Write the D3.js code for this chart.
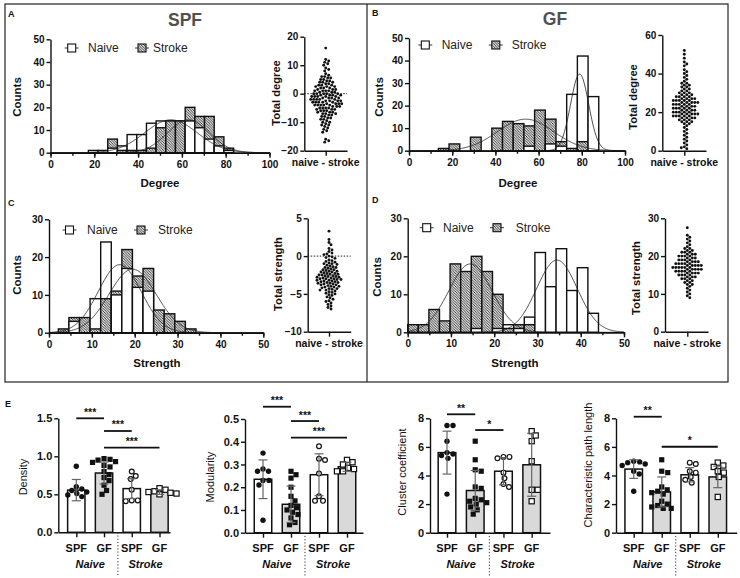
<!DOCTYPE html>
<html><head><meta charset="utf-8">
<script src="https://cdn.jsdelivr.net/npm/d3@7"></script>
<style>
body{margin:0;background:#fff}
svg{display:block}
text{font-family:"Liberation Sans",Arial,Helvetica,sans-serif}
</style>
</head><body>
<svg id="c" width="740" height="578"></svg>
<script>
// ---------------- DATA ----------------
// Histograms: bin start, bin width, counts per bin
const degSPF_binStart = 17.3, degSPF_binWidth = 4.42;
const degSPF_naive  = [1, 1, 2, 3, 8, 8, 13, 14, 14, 14, 14, 11, 6, 3, 1];
const degSPF_stroke = [0, 0, 6, 1, 1, 1, 2, 11, 14, 14, 20, 16, 16, 7, 2];

const degGF_binStart = 13.6, degGF_binWidth = 4.95;
const degGF_naive  = [0, 0, 0, 0, 0, 0, 0, 0, 2, 0, 3, 2, 25, 42, 24];
const degGF_stroke = [1, 3, 0, 6, 0, 10, 13, 12, 11, 18, 14, 4, 1, 4, 0];

const strSPF_binStart = 2.18, strSPF_binWidth = 2.47;
const strSPF_naive  = [0, 3, 0, 9, 24, 10, 17, 12, 11, 0, 0, 0, 0];
const strSPF_stroke = [1, 4, 4, 1, 9, 11, 22, 15, 17, 6, 5, 3, 1];

const strGF_binStart = 0, strGF_binWidth = 2.45;
const strGF_naive  = [0, 0, 0, 0, 0, 0, 1, 0, 1, 2, 1, 4, 21, 12, 22, 11, 17, 5];
const strGF_stroke = [2, 2, 6, 3, 18, 16, 20, 16, 10, 1, 2, 2, 0, 0, 0, 0, 0, 0];

// Gaussian fits [amplitude, mean, sd]
const degSPF_fitNaive = [14.5, 55, 12],  degSPF_fitStroke = [14.5, 63, 9.5];
const degGF_fitNaive  = [34, 79, 4.2],   degGF_fitStroke  = [14, 54, 13];
const strSPF_fitNaive = [18, 16.5, 5],   strSPF_fitStroke = [16.8, 19.5, 5.5];
const strGF_fitNaive  = [19, 34.5, 4.7], strGF_fitStroke  = [18, 14.5, 5];

// Scatter of per-node differences (naive - stroke)
const totDegSPF = [16, 12, 11.5, 11, 10.5, 10, 9, 8.5, 8, 7, 6.5, 6, 6, 5.5, 5.5, 5, 5, 4.5, 4.5, 4, 4, 4, 3.5, 3.5, 3, 3, 3, 2.5, 2.5, 2.5, 2, 2, 2, 1.5, 1.5, 1.5, 1, 1, 1, 1, 0.5, 0.5, 0.5, 0, 0, 0, 0, 0, -0.5, -0.5, -0.5, -0.5, -1, -1, -1, -1, -1, -1.5, -1.5, -1.5, -1.5, -2, -2, -2, -2, -2, -2.5, -2.5, -2.5, -2.5, -3, -3, -3, -3, -3, -3.5, -3.5, -3.5, -3.5, -4, -4, -4, -4, -4, -4.5, -4.5, -4.5, -5, -5, -5, -5, -5.5, -5.5, -5.5, -6, -6, -6, -6.5, -6.5, -6.5, -7, -7, -7, -7.5, -7.5, -8, -8, -8.5, -8.5, -9, -9, -9.5, -10, -10, -10.5, -11, -11, -11.5, -12, -12.5, -13, -13.5, -16, -16.5, -17];
const totDegGF = [52, 50, 48, 46, 45, 44, 42, 41, 40, 39, 38, 37, 36, 35, 35, 34, 34, 33, 33, 32, 32, 31, 31, 30, 30, 30, 29, 29, 29, 28, 28, 28, 28, 27, 27, 27, 27, 26, 26, 26, 26, 26, 25, 25, 25, 25, 25, 24, 24, 24, 24, 24, 23, 23, 23, 23, 22, 22, 22, 22, 22, 21, 21, 21, 21, 20, 20, 20, 20, 20, 19, 19, 19, 19, 19, 18, 18, 18, 18, 18, 17, 17, 17, 17, 16, 16, 16, 15, 15, 15, 14, 14, 13, 12, 11, 10, 9, 8, 7, 6, 5, 4, 3, 2, 1.5, 1];
const totStrSPF = [3.3, 2.2, 1.8, 1.5, 1.0, 0.8, 0.6, 0.4, 0.3, 0.2, 0, -0.1, -0.2, -0.3, -0.5, -0.6, -0.7, -0.8, -0.9, -1.0, -1.0, -1.1, -1.2, -1.3, -1.4, -1.5, -1.5, -1.6, -1.7, -1.8, -1.8, -1.9, -2.0, -2.0, -2.1, -2.1, -2.2, -2.3, -2.3, -2.4, -2.4, -2.5, -2.5, -2.6, -2.6, -2.7, -2.7, -2.8, -2.8, -2.9, -2.9, -3.0, -3.0, -3.0, -3.1, -3.1, -3.2, -3.2, -3.3, -3.3, -3.4, -3.4, -3.5, -3.5, -3.6, -3.6, -3.7, -3.7, -3.8, -3.8, -3.9, -4.0, -4.0, -4.1, -4.1, -4.2, -4.3, -4.3, -4.4, -4.5, -4.5, -4.6, -4.7, -4.8, -4.9, -5.0, -5.1, -5.2, -5.4, -5.5, -5.7, -5.9, -6.0, -6.2, -6.4, -6.6, -6.8, -7.0];
const totStrGF = [27.5, 25.5, 25, 24.5, 24, 23.5, 23, 22.5, 22, 22, 21.5, 21.5, 21, 21, 21, 20.5, 20.5, 20.5, 20, 20, 20, 20, 19.5, 19.5, 19.5, 19, 19, 19, 19, 18.5, 18.5, 18.5, 18.5, 18, 18, 18, 18, 18, 17.5, 17.5, 17.5, 17.5, 17.5, 17, 17, 17, 17, 17, 17, 16.5, 16.5, 16.5, 16.5, 16.5, 16, 16, 16, 16, 16, 15.5, 15.5, 15.5, 15.5, 15, 15, 15, 15, 14.5, 14.5, 14.5, 14, 14, 14, 13.5, 13.5, 13, 13, 12.5, 12.5, 12, 11.5, 11, 10.5, 10, 9.5, 9];

// Panel E: groups SPF/GF x Naive/Stroke
const groupLabels = ["SPF", "GF", "SPF", "GF"];
const conditionLabels = ["Naive", "Stroke"];

const densMean = [0.555, 0.78, 0.575, 0.53];
const densSD   = [0.14, 0.145, 0.13, 0.03];
const densPts  = [[0.87, 0.60, 0.57, 0.55, 0.53, 0.51, 0.49, 0.47],
                  [0.97, 0.96, 0.95, 0.93, 0.92, 0.88, 0.86, 0.80, 0.76, 0.72, 0.68, 0.62, 0.55, 0.50],
                  [0.80, 0.74, 0.70, 0.56, 0.42, 0.42, 0.41],
                  [0.58, 0.56, 0.54, 0.53, 0.52, 0.51, 0.50]];
const densSig  = [[0, 1, 1.50, "***"], [1, 2, 1.333, "***"], [1, 3, 1.113, "***"]];

const modMean = [0.235, 0.125, 0.255, 0.29];
const modSD   = [0.085, 0.08, 0.092, 0.02];
const modPts  = [[0.35, 0.28, 0.27, 0.27, 0.23, 0.23, 0.21, 0.055],
                 [0.27, 0.255, 0.24, 0.20, 0.16, 0.14, 0.12, 0.11, 0.10, 0.09, 0.08, 0.065, 0.045, 0.035],
                 [0.38, 0.325, 0.32, 0.26, 0.16, 0.14, 0.14],
                 [0.32, 0.31, 0.30, 0.285, 0.28, 0.27, 0.27]];
const modSig  = [[0, 1, 0.554, "***"], [1, 2, 0.491, "***"], [1, 3, 0.418, "***"]];

const ccMean = [5.6, 2.95, 4.3, 4.75];
const ccSD   = [1.5, 1.4, 0.95, 2.2];
const ccPts  = [[7.5, 7.5, 6.4, 5.6, 5.5, 5.4, 5.2, 2.7],
                [6.4, 5.1, 4.4, 4.3, 3.2, 3.1, 2.4, 2.3, 2.2, 2.1, 2.0, 1.8, 1.6, 1.3],
                [5.3, 5.3, 5.2, 4.2, 3.8, 3.4, 3.2],
                [7.1, 6.8, 6.4, 5.0, 3.0, 3.0, 2.2]];
const ccSig  = [[0, 1, 8.28, "**"], [1, 2, 7.18, "*"]];

const cplMean = [4.45, 2.85, 4.05, 3.9];
const cplSD   = [0.65, 1.05, 0.5, 0.75];
const cplPts  = [[5.0, 4.95, 4.9, 4.8, 4.7, 4.3, 4.1, 2.9],
                 [5.1, 4.3, 4.2, 3.2, 3.0, 2.9, 2.8, 2.7, 2.2, 2.0, 1.9, 1.8, 1.7, 1.7],
                 [4.9, 4.8, 4.3, 4.2, 3.9, 3.7, 3.5],
                 [4.9, 4.7, 4.6, 4.3, 4.2, 3.9, 2.5]];
const cplSig  = [[0, 1, 8.11, "**"], [1, 3, 6.01, "*"]];

// ---------------- DRAW ----------------
const svg = d3.select("#c");
const defs = svg.append("defs");
const pat = defs.append("pattern").attr("id", "hatch").attr("patternUnits", "userSpaceOnUse")
  .attr("width", 2.6).attr("height", 2.6);
pat.append("rect").attr("width", 2.6).attr("height", 2.6).attr("fill", "#dedede");
pat.append("path").attr("d", "M0,0L2.6,2.6M-1,1.6L1,3.6M1.6,-1L3.6,1").attr("stroke", "#262626").attr("stroke-width", 0.85);

// frame
svg.append("rect").attr("x", 5).attr("y", 4).attr("width", 723).attr("height", 378)
  .attr("fill", "none").attr("stroke", "#222").attr("stroke-width", 1.2);
svg.append("line").attr("x1", 367).attr("x2", 367).attr("y1", 4).attr("y2", 382)
  .attr("stroke", "#222").attr("stroke-width", 1.2);

function txt(x, y, s, o = {}) {
  const t = svg.append("text").attr("x", x).attr("y", y).text(s)
    .attr("font-size", o.size || 11).attr("font-weight", o.weight || "bold")
    .attr("text-anchor", o.anchor || "middle").attr("fill", o.fill || "#111");
  if (o.italic) t.attr("font-style", "italic");
  if (o.rot) t.attr("transform", `rotate(-90,${x},${y})`);
  return t;
}
function styleAxis(g, fs) {
  g.select(".domain").attr("stroke", "#111").attr("stroke-width", 1.4);
  g.selectAll(".tick line").attr("stroke", "#111").attr("stroke-width", 1.4);
  g.selectAll(".tick text").attr("font-size", fs || 10).attr("font-weight", "bold")
    .attr("fill", "#111").attr("font-family", '"Liberation Sans",Arial,sans-serif');
}

function hist(cfg) {
  const x = d3.scaleLinear().domain(cfg.xd).range(cfg.xr);
  const y = d3.scaleLinear().domain(cfg.yd).range(cfg.yr);
  const g = svg.append("g");
  const bars = [];
  cfg.naive.forEach((n, i) => {
    const s = cfg.stroke[i];
    const x0 = cfg.start + i * cfg.width, x1 = x0 + cfg.width;
    const items = [{v: n, f: "#fff"}, {v: s, f: "url(#hatch)"}].filter(d => d.v > 0)
      .sort((a, b) => b.v - a.v);
    items.forEach(it => bars.push({x0, x1, v: it.v, f: it.f}));
  });
  g.selectAll("rect.b").data(bars).join("rect")
    .attr("x", d => x(d.x0)).attr("width", d => x(d.x1) - x(d.x0))
    .attr("y", d => y(d.v)).attr("height", d => y(0) - y(d.v))
    .attr("fill", d => d.f).attr("stroke", "#111").attr("stroke-width", 1.4);
  // fits
  const xs = d3.range(cfg.xd[0], cfg.xd[1] + 0.01, (cfg.xd[1] - cfg.xd[0]) / 300);
  [cfg.fitN, cfg.fitS].forEach(p => {
    const line = d3.line().x(d => x(d)).y(d => y(p[0] * Math.exp(-0.5 * ((d - p[1]) / p[2]) ** 2)));
    g.append("path").datum(xs).attr("d", line).attr("fill", "none")
      .attr("stroke", "#222").attr("stroke-width", 0.8);
  });
  // axes
  const ax = g.append("g").attr("transform", `translate(0,${cfg.yr[0]})`)
    .call(d3.axisBottom(x).tickValues(d3.range(cfg.xd[0], cfg.xd[1] + 0.1, cfg.xMinor)).tickSize(3).tickSizeOuter(0).tickFormat(""));
  styleAxis(ax);
  const axM = g.append("g").attr("transform", `translate(0,${cfg.yr[0]})`)
    .call(d3.axisBottom(x).tickValues(d3.range(cfg.xd[0], cfg.xd[1] + 0.1, cfg.xMajor)).tickSize(5).tickSizeOuter(0).tickFormat(d3.format("d")));
  styleAxis(axM);
  const ay = g.append("g").attr("transform", `translate(${cfg.xr[0]},0)`)
    .call(d3.axisLeft(y).tickValues(d3.range(cfg.yd[0], cfg.yd[1] + 0.1, cfg.yStep)).tickSize(4).tickSizeOuter(0).tickPadding(2));
  styleAxis(ay);
  // legend
  const L = cfg.legend;
  [[L.nx, "#fff", "Naive", L.ntx], [L.sx, "url(#hatch)", "Stroke", L.stx]].forEach(([cx, f, lab, tx]) => {
    g.append("line").attr("x1", cx - 7).attr("x2", cx + 7).attr("y1", L.y).attr("y2", L.y)
      .attr("stroke", "#222").attr("stroke-width", 0.9);
    g.append("rect").attr("x", cx - 4).attr("y", L.y - 4).attr("width", 8).attr("height", 8)
      .attr("fill", f).attr("stroke", "#111").attr("stroke-width", 1.1);
    txt(tx, L.y + 4.3, lab, {size: 12, weight: "normal", anchor: "start", fill: "#222"});
  });
  txt(cfg.ylab[0], cfg.ylab[1], "Counts", {size: 11.5, rot: true});
  txt(cfg.xlab[0], cfg.xlab[1], cfg.xlabText, {size: 11.5});
}

function swarm(vals, y, cx, r) {
  const pts = vals.map(v => ({v, y: y(v)})).sort((a, b) => a.y - b.y);
  const placed = [];
  pts.forEach(p => {
    for (let k = 0; k < 400; k++) {
      const off = (k % 2 === 1 ? 1 : -1) * Math.ceil(k / 2) * 0.5;
      const xx = cx + off;
      if (placed.every(q => (q.x - xx) ** 2 + (q.y - p.y) ** 2 >= (2 * r) ** 2)) {
        p.x = xx; placed.push(p); break;
      }
    }
  });
  return placed;
}

function diffScatter(cfg) {
  const y = d3.scaleLinear().domain(cfg.yd).range(cfg.yr);
  const g = svg.append("g");
  if (cfg.zero) {
    g.append("line").attr("x1", cfg.ax).attr("x2", cfg.xend).attr("y1", y(0)).attr("y2", y(0))
      .attr("stroke", "#222").attr("stroke-width", 1).attr("stroke-dasharray", "1.5,1.5");
  }
  const pts = swarm(cfg.vals, y, cfg.cx, 1.5);
  g.selectAll("circle").data(pts).join("circle").attr("cx", d => d.x).attr("cy", d => d.y)
    .attr("r", 1.45).attr("fill", "#111");
  const ay = g.append("g").attr("transform", `translate(${cfg.ax},0)`)
    .call(d3.axisLeft(y).tickValues(d3.range(cfg.yd[0], cfg.yd[1] + 0.01, cfg.yStep)).tickSize(4).tickSizeOuter(0).tickPadding(2));
  styleAxis(ay);
  const xs = d3.scaleLinear().domain([0, 1]).range([cfg.ax, cfg.xend]);
  const axx = g.append("g").attr("transform", `translate(0,${cfg.yr[0]})`)
    .call(d3.axisBottom(xs).tickValues([(cfg.cx - cfg.ax) / (cfg.xend - cfg.ax)]).tickSize(5).tickSizeOuter(0).tickFormat(""));
  styleAxis(axx);
  txt(cfg.cx, cfg.yr[0] + 15.5, "naive - stroke", {size: 10.5});
  txt(cfg.ylab[0], cfg.ylab[1], cfg.ylabText, {size: 11.2, rot: true});
}

// Panel letters and titles
txt(8, 17, "A", {size: 9, anchor: "start"});
txt(372, 16, "B", {size: 9, anchor: "start"});
txt(8, 206, "C", {size: 9, anchor: "start"});
txt(372, 203, "D", {size: 9, anchor: "start"});
txt(5, 407, "E", {size: 9, anchor: "start"});
txt(185, 26, "SPF", {size: 17.5, fill: "#505050"});
txt(555, 25, "GF", {size: 17.5, fill: "#505050"});

hist({xd: [0, 100], xr: [50.5, 269.5], yd: [0, 50], yr: [152.7, 39.3], xMajor: 20, xMinor: 10, yStep: 10,
  start: degSPF_binStart, width: degSPF_binWidth, naive: degSPF_naive, stroke: degSPF_stroke,
  fitN: degSPF_fitNaive, fitS: degSPF_fitStroke,
  legend: {y: 48, nx: 71.7, ntx: 88, sx: 142, stx: 153},
  ylab: [21, 97], xlab: [160, 187], xlabText: "Degree"});
hist({xd: [0, 100], xr: [409, 625], yd: [0, 50], yr: [150.7, 38], xMajor: 20, xMinor: 10, yStep: 10,
  start: degGF_binStart, width: degGF_binWidth, naive: degGF_naive, stroke: degGF_stroke,
  fitN: degGF_fitNaive, fitS: degGF_fitStroke,
  legend: {y: 45, nx: 425.3, ntx: 441.7, sx: 495.8, stx: 511.7},
  ylab: [383, 97], xlab: [518, 187], xlabText: "Degree"});
hist({xd: [0, 50], xr: [49, 263.3], yd: [0, 30], yr: [332.7, 219.3], xMajor: 10, xMinor: 5, yStep: 10,
  start: strSPF_binStart, width: strSPF_binWidth, naive: strSPF_naive, stroke: strSPF_stroke,
  fitN: strSPF_fitNaive, fitS: strSPF_fitStroke,
  legend: {y: 230, nx: 69.5, ntx: 87, sx: 141, stx: 158},
  ylab: [21, 275], xlab: [157, 367], xlabText: "Strength"});
hist({xd: [0, 50], xr: [407.7, 624], yd: [0, 30], yr: [332.3, 218.3], xMajor: 10, xMinor: 5, yStep: 10,
  start: strGF_binStart, width: strGF_binWidth, naive: strGF_naive, stroke: strGF_stroke,
  fitN: strGF_fitNaive, fitS: strGF_fitStroke,
  legend: {y: 227.7, nx: 426.7, ntx: 443, sx: 497, stx: 515.7},
  ylab: [381, 277], xlab: [515, 367], xlabText: "Strength"});

diffScatter({vals: totDegSPF, yd: [-20, 20], yr: [150.7, 36.7], yStep: 10, ax: 304.3, xend: 347, cx: 325.7, zero: true,
  ylab: [280, 93], ylabText: "Total degree"});
diffScatter({vals: totDegGF, yd: [0, 60], yr: [150.7, 35], yStep: 20, ax: 662.3, xend: 706, cx: 684.3, zero: false,
  ylab: [636.5, 97], ylabText: "Total degree"});
diffScatter({vals: totStrSPF, yd: [-10, 5], yr: [331.7, 218.3], yStep: 5, ax: 307.7, xend: 350.7, cx: 329, zero: true,
  ylab: [281.5, 274], ylabText: "Total strength"});
diffScatter({vals: totStrGF, yd: [0, 30], yr: [331.7, 218.3], yStep: 10, ax: 665, xend: 708, cx: 687.3, zero: false,
  ylab: [640, 278], ylabText: "Total strength"});

// Panel E bar charts
const barFill = ["#fff", "#d9d9d9", "#fff", "#d9d9d9"];
const markerSquare = [false, true, false, true];
const markerFilled = [true, true, false, false];

function barChart(cfg) {
  const y = d3.scaleLinear().domain(cfg.yd).range(cfg.yr);
  const x = d3.scaleBand().domain(d3.range(4)).range([cfg.c0 - cfg.step / 2, cfg.c0 + 3.5 * cfg.step])
    .paddingInner(0.375).paddingOuter(0.1875);
  const g = svg.append("g");
  const bw = x.bandwidth();
  g.selectAll("rect.bar").data(cfg.mean).join("rect")
    .attr("x", (d, i) => x(i)).attr("width", bw).attr("y", d => y(d)).attr("height", d => y(0) - y(d))
    .attr("fill", (d, i) => barFill[i]).attr("stroke", "#111").attr("stroke-width", 1.5);
  // points
  cfg.pts.forEach((arr, i) => {
    const cx = x(i) + bw / 2;
    const ps = swarm(arr, y, cx, 2.9);
    ps.forEach(p => {
      if (markerSquare[i]) {
        g.append("rect").attr("x", p.x - 2.6).attr("y", p.y - 2.6).attr("width", 5.2).attr("height", 5.2)
          .attr("fill", markerFilled[i] ? "#111" : "#fff").attr("stroke", "#111").attr("stroke-width", markerFilled[i] ? 0 : 1.2);
      } else {
        g.append("circle").attr("cx", p.x).attr("cy", p.y).attr("r", markerFilled[i] ? 2.7 : 2.4)
          .attr("fill", markerFilled[i] ? "#111" : "#fff").attr("stroke", "#111").attr("stroke-width", markerFilled[i] ? 0 : 1.2);
      }
    });
  });
  // error bars
  cfg.mean.forEach((m, i) => {
    const cx = x(i) + bw / 2, s = cfg.sd[i];
    const eg = g.append("g").attr("stroke", "#666").attr("stroke-width", 1.2);
    eg.append("line").attr("x1", cx).attr("x2", cx).attr("y1", y(m - s)).attr("y2", y(m + s));
    [m - s, m + s].forEach(v => eg.append("line").attr("x1", cx - 4.5).attr("x2", cx + 4.5).attr("y1", y(v)).attr("y2", y(v)));
  });
  // axes
  const ay = g.append("g").attr("transform", `translate(${cfg.ax},0)`)
    .call(d3.axisLeft(y).tickValues(cfg.ticks).tickSize(4).tickSizeOuter(0).tickPadding(2).tickFormat(cfg.fmt));
  styleAxis(ay, 11);
  const xs = d3.scaleLinear().domain([cfg.ax, cfg.xend]).range([cfg.ax, cfg.xend]);
  const axx = g.append("g").attr("transform", `translate(0,${cfg.yr[0]})`)
    .call(d3.axisBottom(xs).tickValues(d3.range(4).map(i => x(i) + bw / 2)).tickSize(5).tickSizeOuter(0).tickFormat(""));
  styleAxis(axx);
  groupLabels.forEach((l, i) => txt(x(i) + bw / 2, 551.5, l, {size: 11}));
  txt((x(0) + x(1) + bw) / 2, 568, conditionLabels[0], {size: 11, italic: true});
  txt((x(2) + x(3) + bw) / 2, 568, conditionLabels[1], {size: 11, italic: true});
  const dx = (x(1) + bw + x(2)) / 2;
  g.append("line").attr("x1", dx).attr("x2", dx).attr("y1", cfg.yr[0]).attr("y2", 576)
    .attr("stroke", "#333").attr("stroke-width", 1).attr("stroke-dasharray", "1.2,2");
  // significance
  cfg.sig.forEach(([a, b, v, lab]) => {
    const x1 = x(a) + bw / 2, x2 = x(b) + bw / 2;
    g.append("line").attr("x1", x1).attr("x2", x2).attr("y1", y(v)).attr("y2", y(v))
      .attr("stroke", "#111").attr("stroke-width", 1.8);
    txt((x1 + x2) / 2, y(v) - 2.5, lab, {size: 10.5});
  });
  txt(cfg.ylab[0], cfg.ylab[1], cfg.ylabText, {size: 11, weight: "normal", rot: true});
}

barChart({yd: [0, 1.5], yr: [532.3, 418.3], ticks: [0, 0.5, 1.0, 1.5], fmt: d3.format(".1f"), ax: 58.3, xend: 170, c0: 76.3, step: 27.73,
  mean: densMean, sd: densSD, pts: densPts, sig: densSig, ylab: [27, 477], ylabText: "Density"});
barChart({yd: [0, 0.5], yr: [532.7, 419], ticks: [0, 0.1, 0.2, 0.3, 0.4, 0.5], fmt: d3.format(".1f"), ax: 245, xend: 363, c0: 263, step: 28,
  mean: modMean, sd: modSD, pts: modPts, sig: modSig, ylab: [214, 477], ylabText: "Modularity"});
barChart({yd: [0, 8], yr: [532.7, 418.3], ticks: [0, 2, 4, 6, 8], fmt: d3.format("d"), ax: 430, xend: 550, c0: 447, step: 28.23,
  mean: ccMean, sd: ccSD, pts: ccPts, sig: ccSig, ylab: [405.5, 472], ylabText: "Cluster coefficient"});
barChart({yd: [0, 8], yr: [532.7, 418.3], ticks: [0, 2, 4, 6, 8], fmt: d3.format("d"), ax: 616, xend: 736.7, c0: 633.7, step: 28.03,
  mean: cplMean, sd: cplSD, pts: cplPts, sig: cplSig, ylab: [592, 465], ylabText: "Characteristic path length"});
</script>
</body></html>
